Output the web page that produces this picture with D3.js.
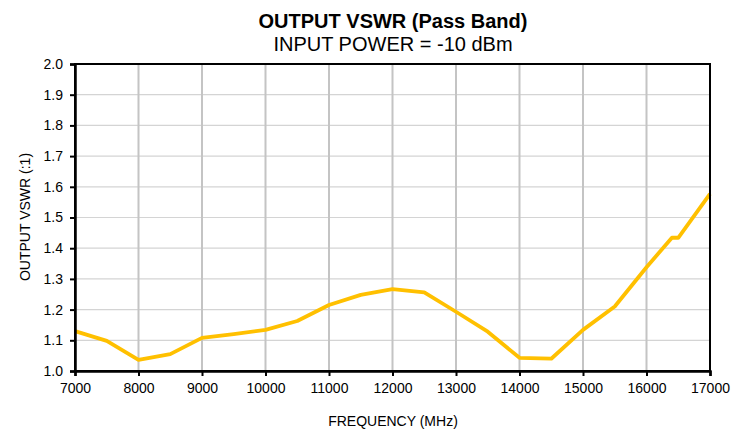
<!DOCTYPE html>
<html lang="en">
<head>
  <meta charset="UTF-8" />
  <title>Output VSWR (Pass Band)</title>
  <script src="https://d3js.org/d3.v7.min.js"></script>
  <style>
    body { margin: 0; background: #fff; font-family: Arial, "Liberation Sans", sans-serif; }
    .tick text { font-size: 14px; fill: #000; }
  </style>
</head>
<body>
  <svg id="chart" width="749" height="429"></svg>
  <script>
    const width = 749;
    const height = 429;

    // frequency (MHz) and output VSWR
    const frequency = [7000, 7500, 8000, 8500, 9000, 9500, 10000, 10500, 11000, 11500,
      12000, 12500, 13000, 13500, 14000, 14500, 15000, 15500, 16000, 16400, 16500, 17000];
    const vswr = [1.130, 1.098, 1.036, 1.055, 1.108, 1.120, 1.134, 1.163, 1.215, 1.248,
      1.267, 1.256, 1.193, 1.128, 1.043, 1.040, 1.134, 1.210, 1.338, 1.434, 1.434, 1.577];

    const xTicks = [7000, 8000, 9000, 10000, 11000, 12000, 13000, 14000, 15000, 16000, 17000];
    const yTicks = [1.0, 1.1, 1.2, 1.3, 1.4, 1.5, 1.6, 1.7, 1.8, 1.9, 2.0];

    const margin = { top: 64, right: 39, bottom: 58, left: 75 };
    const svg = d3.select("#chart");

    const x = d3.scaleLinear()
      .domain([7000, 17000])
      .range([margin.left, width - margin.right]);

    const y = d3.scaleLinear()
      .domain([1.0, 2.0])
      .range([height - margin.bottom, margin.top]);

    // horizontal grid
    svg.append("g")
      .selectAll("line")
      .data(yTicks)
      .join("line")
      .attr("x1", margin.left)
      .attr("x2", width - margin.right)
      .attr("y1", d => y(d))
      .attr("y2", d => y(d))
      .attr("stroke", "#d4d4d4")
      .attr("stroke-width", 1.2);

    // vertical grid
    svg.append("g")
      .selectAll("line")
      .data(xTicks)
      .join("line")
      .attr("x1", d => x(d))
      .attr("x2", d => x(d))
      .attr("y1", margin.top)
      .attr("y2", height - margin.bottom)
      .attr("stroke", "#c4c4c4")
      .attr("stroke-width", 2);

    // data line
    const line = d3.line()
      .x((d, i) => x(frequency[i]))
      .y(d => y(d));

    svg.append("path")
      .datum(vswr)
      .attr("d", line)
      .attr("fill", "none")
      .attr("stroke", "#ffc000")
      .attr("stroke-width", 3.8)
      .attr("stroke-linejoin", "round");

    // frame
    svg.append("rect")
      .attr("x", margin.left)
      .attr("y", margin.top)
      .attr("width", width - margin.left - margin.right)
      .attr("height", height - margin.top - margin.bottom)
      .attr("fill", "none")
      .attr("stroke", "#000")
      .attr("stroke-width", 2);

    // axes
    const xAxis = svg.append("g")
      .attr("transform", `translate(0,${height - margin.bottom})`)
      .call(d3.axisBottom(x).tickValues(xTicks).tickFormat(d3.format("d")).tickSizeOuter(0).tickSize(5).tickPadding(7));
    xAxis.select(".domain").attr("stroke-width", 2.5);
    xAxis.selectAll(".tick line").attr("stroke-width", 2);

    const yAxis = svg.append("g")
      .attr("transform", `translate(${margin.left},0)`)
      .call(d3.axisLeft(y).tickValues(yTicks).tickFormat(d3.format(".1f")).tickSizeOuter(0).tickSize(5).tickPadding(7));
    yAxis.select(".domain").attr("stroke-width", 2.5);
    yAxis.selectAll(".tick line").attr("stroke-width", 2);
    svg.selectAll(".tick text").attr("font-family", "Arial, 'Liberation Sans', sans-serif");

    // titles
    svg.append("text")
      .attr("x", 393)
      .attr("y", 28)
      .attr("text-anchor", "middle")
      .attr("font-size", "20px")
      .attr("font-weight", "bold")
      .text("OUTPUT VSWR (Pass Band)");

    svg.append("text")
      .attr("x", 393)
      .attr("y", 51)
      .attr("text-anchor", "middle")
      .attr("font-size", "20px")
      .text("INPUT POWER = -10 dBm");

    svg.append("text")
      .attr("x", 393)
      .attr("y", 426)
      .attr("text-anchor", "middle")
      .attr("font-size", "14px")
      .text("FREQUENCY (MHz)");

    svg.append("text")
      .attr("transform", "translate(30,217) rotate(-90)")
      .attr("text-anchor", "middle")
      .attr("font-size", "14px")
      .text("OUTPUT VSWR (:1)");
  </script>
</body>
</html>
